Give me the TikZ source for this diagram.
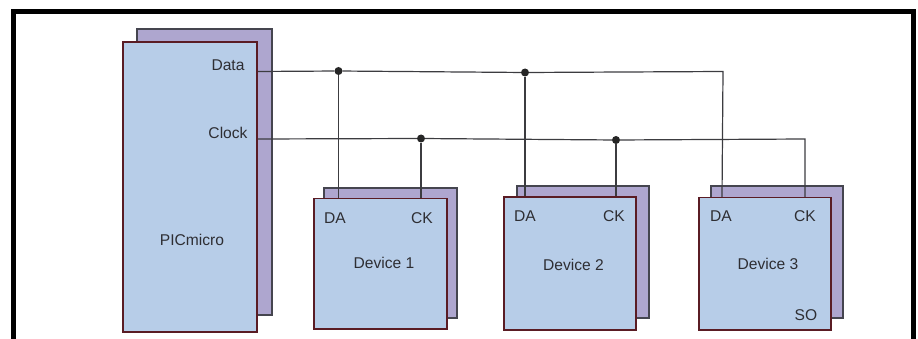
\documentclass[tikz,border=0pt]{standalone}
\usepackage{fontspec}
\setmainfont{Liberation Sans}
\definecolor{chipfill}{HTML}{B7CDE8}
\definecolor{shadefill}{HTML}{AEA6CF}
\definecolor{chipline}{HTML}{5A1C24}
\definecolor{shadeline}{HTML}{45454F}
\definecolor{wirecolor}{HTML}{3C3C40}
\definecolor{labelcolor}{HTML}{2E2E33}
\begin{document}
\begin{tikzpicture}
[every node/.style={inner sep=0pt},
 shadebox/.style={rectangle, fill=shadefill, line width=1.1pt, draw=shadeline},
 chipbox/.style={rectangle, fill=chipfill, line width=1.1pt, draw=chipline},
 wire/.style={line width=1.2pt, color=wirecolor},
 junction/.style={circle, minimum size=8.0pt, fill=black!85},
 pinlabel/.style={font=\fontsize{15.6}{18}\selectfont, text=labelcolor}]
\useasboundingbox (0pt, 0pt) rectangle (918pt, -339pt);
% outer frame, open at the bottom
\coordinate (frame1) at (13.5pt, -339.0pt);
\coordinate (frame2) at (13.5pt, -11.5pt);
\coordinate (frame3) at (913.0pt, -11.5pt);
\coordinate (frame4) at (913.0pt, -339.0pt);
\draw [line width=5.0pt, color=black, miter limit=10] (frame1) -- (frame2) -- (frame3) -- (frame4);
% back plates
\node (picback) [shadebox, minimum width=135.0pt, minimum height=286.0pt] at (204.5pt, -172.0pt) {};
\node (dev1back) [shadebox, minimum width=133.0pt, minimum height=130.0pt] at (390.5pt, -253.0pt) {};
\node (dev2back) [shadebox, minimum width=132.0pt, minimum height=132.0pt] at (583.0pt, -252.0pt) {};
\node (dev3back) [shadebox, minimum width=132.0pt, minimum height=132.0pt] at (777.0pt, -252.0pt) {};
% bus points
\coordinate (datastart) at (257.0pt, -71.5pt);
\coordinate (clockstart) at (257.0pt, -139.0pt);
\coordinate (datacorner) at (723.0pt, -71.5pt);
\coordinate (clockcorner) at (805.0pt, -139.0pt);
\node (dot1) [junction] at (338.5pt, -71.0pt) {};
\node (dot2) [junction] at (525.0pt, -72.5pt) {};
\node (dot3) [junction] at (421.0pt, -138.5pt) {};
\node (dot4) [junction] at (616.0pt, -140.0pt) {};
\coordinate (da1) at (338.5pt, -198.5pt);
\coordinate (ck1) at (421.0pt, -198.5pt);
\coordinate (da2) at (525.0pt, -196.0pt);
\coordinate (ck2) at (616.0pt, -197.0pt);
\coordinate (da3) at (722.0pt, -197.5pt);
\coordinate (ck3) at (805.0pt, -197.5pt);
\draw [wire] (datastart) -- (dot1) -- (dot2) -- (datacorner) -- (da3);
\draw [wire] (clockstart) -- (dot3) -- (dot4) -- (clockcorner) -- (ck3);
\draw [wire] (dot1) -- (da1);
\draw [wire] (dot3) -- (ck1);
\draw [wire] (dot2) -- (da2);
\draw [wire] (dot4) -- (ck2);
% front plates
\node (pic) [chipbox, minimum width=134.0pt, minimum height=290.0pt] at (190.0pt, -187.0pt) {};
\node (dev1) [chipbox, minimum width=133.0pt, minimum height=130.5pt] at (380.5pt, -263.7pt) {};
\node (dev2) [chipbox, minimum width=132.0pt, minimum height=133.0pt] at (570.0pt, -263.5pt) {};
\node (dev3) [chipbox, minimum width=132.0pt, minimum height=132.5pt] at (765.0pt, -263.7pt) {};
% labels
\node (datalabel) [pinlabel] at (228.0pt, -65.5pt) {Data};
\node (clocklabel) [pinlabel] at (228.0pt, -132.5pt) {Clock};
\node (piclabel) [pinlabel] at (192.0pt, -239.5pt) {PICmicro};
\node (dalabel1) [pinlabel] at (335.0pt, -218.0pt) {DA};
\node (cklabel1) [pinlabel] at (422.0pt, -218.0pt) {CK};
\node (devlabel1) [pinlabel] at (384.0pt, -262.5pt) {Device 1};
\node (dalabel2) [pinlabel] at (525.0pt, -216.5pt) {DA};
\node (cklabel2) [pinlabel] at (614.0pt, -216.5pt) {CK};
\node (devlabel2) [pinlabel] at (573.5pt, -264.5pt) {Device 2};
\node (dalabel3) [pinlabel] at (721.0pt, -216.5pt) {DA};
\node (cklabel3) [pinlabel] at (805.0pt, -216.5pt) {CK};
\node (devlabel3) [pinlabel] at (768.0pt, -263.5pt) {Device 3};
\node (solabel3) [pinlabel] at (806.0pt, -315.5pt) {SO};
\end{tikzpicture}
\end{document}
